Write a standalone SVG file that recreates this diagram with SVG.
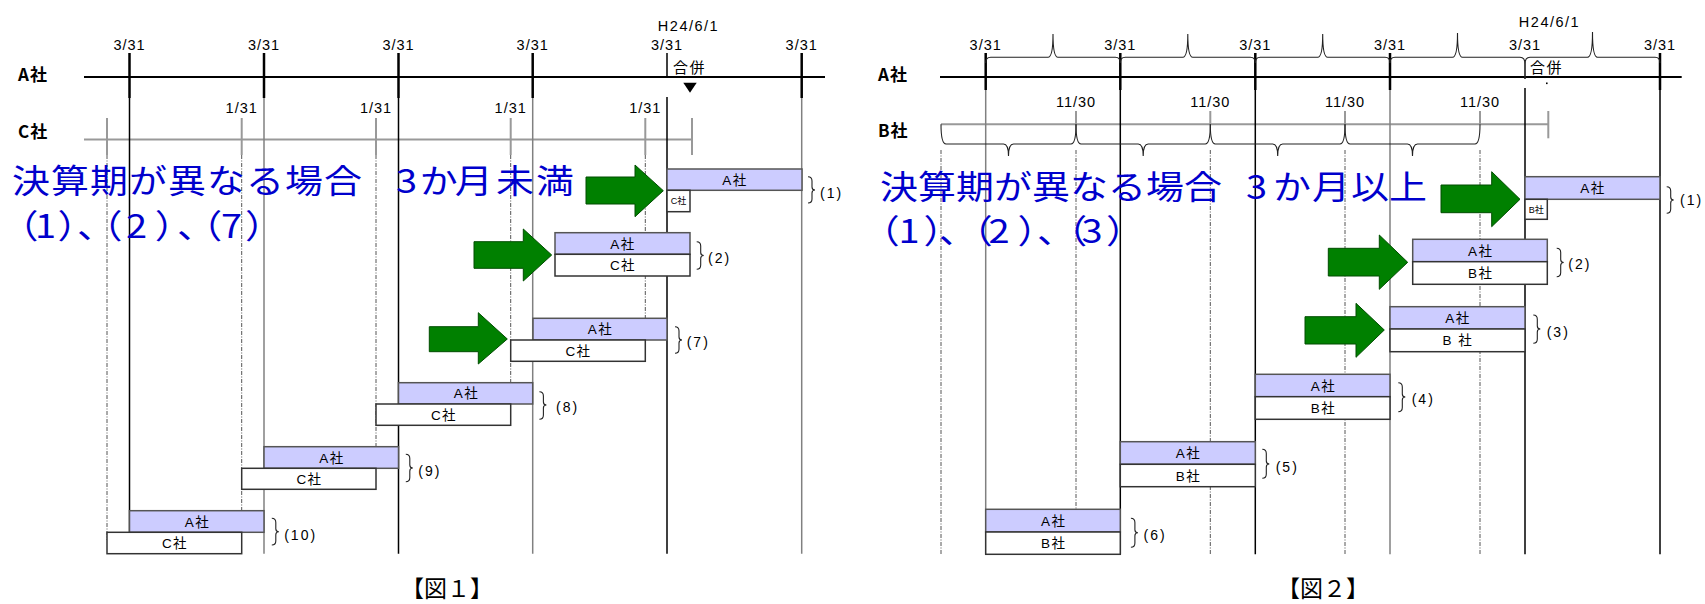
<svg xmlns="http://www.w3.org/2000/svg" width="1705" height="604" viewBox="0 0 1705 604">
<style>
.bg{fill:#fff}
.axis{stroke:#000;stroke-width:2;fill:none}
.axisg{stroke:#999;stroke-width:2;fill:none}
.tick{stroke:#000;stroke-width:2.5}
.tickg{stroke:#999;stroke-width:2}
.vb{stroke:#000;stroke-width:1.5}
.vg{stroke:#808080;stroke-width:1.5}
.dd{stroke:#555;stroke-width:1;stroke-dasharray:4 1.5 1 1.5}
.brace{stroke:#222;stroke-width:1.1;fill:none}
.barA{fill:#ccccff;stroke:#555;stroke-width:1.5}
.barC{fill:#fff;stroke:#333;stroke-width:1.5}
.arrow{fill:#008000;stroke:#004d00;stroke-width:1}
.date{font-family:"Liberation Sans","Noto Sans CJK JP",sans-serif;font-size:14.5px;letter-spacing:1px;text-anchor:middle;fill:#000}
.co{font-family:"Noto Sans CJK JP",sans-serif;font-size:17px;font-weight:bold;letter-spacing:1px;fill:#000}
.bt{font-family:"Liberation Sans","Noto Sans CJK JP",sans-serif;font-size:13.5px;letter-spacing:1.5px;text-anchor:middle;fill:#000}
.bts{font-family:"Liberation Sans","Noto Sans CJK JP",sans-serif;font-size:9px;text-anchor:middle;fill:#000}
.num{font-family:"Liberation Sans","Noto Sans CJK JP",sans-serif;font-size:14px;letter-spacing:2px;fill:#000}
.blue{font-family:"Noto Sans CJK JP",sans-serif;font-size:33px;fill:#0000cc}
.merge{font-family:"Noto Sans CJK JP",sans-serif;font-size:15px;letter-spacing:1.5px;fill:#000}
.cap{font-family:"Liberation Serif","Noto Sans CJK JP",serif;font-size:23px;text-anchor:middle;fill:#000}
</style>
<rect class="bg" x="0" y="0" width="1705" height="604"/>

<!-- ============ FIGURE 1 ============ -->
<g id="fig1-axes">
  <line class="axis" x1="84" y1="77" x2="825" y2="77"/>
  <line class="axisg" x1="84" y1="139.5" x2="692" y2="139.5"/>
  <!-- dash-dot C-company period lines -->
  <line class="dd" x1="107" y1="155" x2="107" y2="540"/>
  <line class="dd" x1="241.7" y1="155" x2="241.7" y2="520"/>
  <line class="dd" x1="376" y1="155" x2="376" y2="455"/>
  <line class="dd" x1="510.7" y1="155" x2="510.7" y2="390"/>
  <line class="dd" x1="645.3" y1="155" x2="645.3" y2="325"/>
  <!-- solid A-company fiscal year-end lines -->
  <line class="vb" x1="129.5" y1="98" x2="129.5" y2="553.7"/>
  <line class="vg" x1="264" y1="98" x2="264" y2="553.7"/>
  <line class="vb" x1="398.5" y1="98" x2="398.5" y2="553.7"/>
  <line class="vg" x1="532.7" y1="98" x2="532.7" y2="553.7"/>
  <line class="vb" x1="667" y1="97" x2="667" y2="553.7"/>
  <line class="vg" x1="801.7" y1="98" x2="801.7" y2="553.7"/>
  <!-- A ticks -->
  <line class="tick" x1="129.5" y1="53" x2="129.5" y2="98"/>
  <line class="tick" x1="264" y1="53" x2="264" y2="98"/>
  <line class="tick" x1="398.5" y1="53" x2="398.5" y2="98"/>
  <line class="tick" x1="532.7" y1="53" x2="532.7" y2="98"/>
  <line class="vb" x1="667" y1="53" x2="667" y2="77"/>
  <line class="tick" x1="801.7" y1="53" x2="801.7" y2="98"/>
  <!-- C ticks -->
  <line class="tickg" x1="107" y1="118" x2="107" y2="155"/>
  <line class="tickg" x1="241.7" y1="118" x2="241.7" y2="155"/>
  <line class="tickg" x1="376" y1="118" x2="376" y2="155"/>
  <line class="tickg" x1="510.7" y1="118" x2="510.7" y2="155"/>
  <line class="tickg" x1="645.3" y1="118" x2="645.3" y2="155"/>
  <line class="tickg" x1="692" y1="118" x2="692" y2="155"/>
  <polygon points="683.3,82.7 696.7,82.7 690,92.7" fill="#000"/>
</g>
<g id="fig1-labels">
  <text class="co" x="18" y="81">A社</text>
  <text class="co" x="18" y="137.5">C社</text>
  <text class="date" x="129.5" y="50">3/31</text>
  <text class="date" x="264" y="50">3/31</text>
  <text class="date" x="398.5" y="50">3/31</text>
  <text class="date" x="532.7" y="50">3/31</text>
  <text class="date" x="667" y="50">3/31</text>
  <text class="date" x="801.7" y="50">3/31</text>
  <text class="date" x="688.5" y="30.7" style="letter-spacing:1.5px">H24/6/1</text>
  <text class="merge" x="673" y="73">合併</text>
  <text class="date" x="241.7" y="113.3">1/31</text>
  <text class="date" x="376" y="113.3">1/31</text>
  <text class="date" x="510.7" y="113.3">1/31</text>
  <text class="date" x="645.3" y="113.3">1/31</text>
</g>
<g id="fig1-title" transform="scale(1.15,1)">
  <text class="blue" y="193.5" x="10.43 44.35 78.26 112.17 146.09 180 213.91 247.83 281.74 315.65 344.35 364.96 395.39 431.3 466.09">決算期が異なる場合　3か月未満</text>
  <text class="blue" y="238.5" x="0.5 30.43 49.91 66.96 73.5 109.57 134.5 153.91 160.17 192.17 212.96">（1）、（2）、（7）</text>
</g>
<g id="fig1-case1">
  <rect class="barA" x="667" y="169" width="135" height="21.3"/>
  <rect class="barC" x="667" y="190.3" width="23" height="21.4"/>
  <text class="bt" x="735" y="184.7">A社</text>
  <text class="bts" x="678.5" y="204.3">C社</text>
  <path class="brace" d="M808,176.7 Q812,176.7 812,181 L812,187 Q812,190 815,190 Q812,190 812,193 L812,199 Q812,203 808,203"/>
  <text class="num" x="820" y="197.5">(1)</text>
</g>
<g id="fig1-case2">
  <rect class="barA" x="555" y="232.7" width="135" height="21.6"/>
  <rect class="barC" x="555" y="254.3" width="135" height="21.7"/>
  <text class="bt" x="623" y="248.5">A社</text>
  <text class="bt" x="623" y="270">C社</text>
  <path class="brace" d="M696.7,241.7 Q700.7,241.7 700.7,246 L700.7,252.5 Q700.7,255.5 703.7,255.5 Q700.7,255.5 700.7,258.5 L700.7,265 Q700.7,269.3 696.7,269.3"/>
  <text class="num" x="708" y="263">(2)</text>
</g>
<g id="fig1-case7">
  <rect class="barA" x="533" y="318.3" width="134" height="21.7"/>
  <rect class="barC" x="510.7" y="340" width="134.6" height="21.3"/>
  <text class="bt" x="600.5" y="334">A社</text>
  <text class="bt" x="578.5" y="355.7">C社</text>
  <path class="brace" d="M675,326.7 Q679,326.7 679,331 L679,337 Q679,340 682,340 Q679,340 679,343 L679,349 Q679,353.3 675,353.3"/>
  <text class="num" x="686.7" y="346.5">(7)</text>
</g>
<g id="fig1-case8">
  <rect class="barA" x="398.5" y="382.7" width="134.2" height="21.3"/>
  <rect class="barC" x="376" y="404" width="134.7" height="21.3"/>
  <text class="bt" x="466.5" y="398.4">A社</text>
  <text class="bt" x="444" y="419.7">C社</text>
  <path class="brace" d="M539.4,391.7 Q543.4,391.7 543.4,396 L543.4,402 Q543.4,405 546.4,405 Q543.4,405 543.4,408 L543.4,415 Q543.4,419.3 539.4,419.3"/>
  <text class="num" x="556" y="411.5">(8)</text>
</g>
<g id="fig1-case9">
  <rect class="barA" x="264" y="446.7" width="134.5" height="21.6"/>
  <rect class="barC" x="241.7" y="468.3" width="134.3" height="21"/>
  <text class="bt" x="332" y="462.5">A社</text>
  <text class="bt" x="309.5" y="483.8">C社</text>
  <path class="brace" d="M405.8,454.3 Q409.8,454.3 409.8,458.5 L409.8,465 Q409.8,468 412.8,468 Q409.8,468 409.8,471 L409.8,477.5 Q409.8,481.7 405.8,481.7"/>
  <text class="num" x="418.3" y="476">(9)</text>
</g>
<g id="fig1-case10">
  <rect class="barA" x="129.5" y="510.7" width="134.5" height="21.6"/>
  <rect class="barC" x="107" y="532.3" width="134.7" height="21.4"/>
  <text class="bt" x="197.5" y="526.5">A社</text>
  <text class="bt" x="175" y="548">C社</text>
  <path class="brace" d="M271.8,518.3 Q275.8,518.3 275.8,522.5 L275.8,528.7 Q275.8,531.7 278.8,531.7 Q275.8,531.7 275.8,534.7 L275.8,541 Q275.8,545 271.8,545"/>
  <text class="num" x="284.2" y="540">(10)</text>
</g>
<g id="fig1-caption"><text class="cap" x="447" y="597">【図１】</text></g>

<!-- ============ FIGURE 2 ============ -->
<g id="fig2-axes">
  <line class="axis" x1="940" y1="77" x2="1681.7" y2="77"/>
  <line class="axisg" x1="941" y1="124.3" x2="1548.3" y2="124.3"/>
  <!-- dash-dot B-company lines -->
  <line class="dd" x1="941" y1="150" x2="941" y2="554.3"/>
  <line class="dd" x1="1076" y1="150" x2="1076" y2="515"/>
  <line class="dd" x1="1210.3" y1="150" x2="1210.3" y2="554.3"/>
  <line class="dd" x1="1345" y1="150" x2="1345" y2="554.3"/>
  <line class="dd" x1="1480" y1="150" x2="1480" y2="554.3"/>
  <!-- solid A lines -->
  <line class="vg" x1="985.7" y1="90" x2="985.7" y2="554.3"/>
  <line class="vb" x1="1120.3" y1="90" x2="1120.3" y2="554.3"/>
  <line class="vb" x1="1255.3" y1="90" x2="1255.3" y2="554.3"/>
  <line class="vg" x1="1390" y1="90" x2="1390" y2="554.3"/>
  <line class="vb" x1="1525" y1="88" x2="1525" y2="554.3"/>
  <line class="vb" x1="1660" y1="90" x2="1660" y2="554.3"/>
  <!-- A ticks -->
  <line class="tick" x1="985.7" y1="53" x2="985.7" y2="90"/>
  <line class="tick" x1="1120.3" y1="53" x2="1120.3" y2="90"/>
  <line class="tick" x1="1255.3" y1="53" x2="1255.3" y2="90"/>
  <line class="tick" x1="1390" y1="53" x2="1390" y2="90"/>
  <line class="tick" x1="1660" y1="53" x2="1660" y2="90"/>
  <!-- B ticks -->
  <line class="tickg" x1="1076" y1="111" x2="1076" y2="124.3"/>
  <line class="tickg" x1="1210.3" y1="111" x2="1210.3" y2="124.3"/>
  <line class="tickg" x1="1345" y1="111" x2="1345" y2="124.3"/>
  <line class="tickg" x1="1480" y1="111" x2="1480" y2="124.3"/>
  <line class="tickg" x1="1548.3" y1="111" x2="1548.3" y2="138.3"/>
  <!-- upper braces (A fiscal years) -->
  <path class="brace" d="M985.7,63 Q985.7,57.3 990.7,57.3 L1048,57.3 Q1053,57.3 1053,34 Q1053,57.3 1058,57.3 L1115.3,57.3 Q1120.3,57.3 1120.3,63"/>
  <path class="brace" d="M1120.3,63 Q1120.3,57.3 1125.3,57.3 L1182.8,57.3 Q1187.8,57.3 1187.8,34 Q1187.8,57.3 1192.8,57.3 L1250.3,57.3 Q1255.3,57.3 1255.3,63"/>
  <path class="brace" d="M1255.3,63 Q1255.3,57.3 1260.3,57.3 L1317.7,57.3 Q1322.7,57.3 1322.7,34 Q1322.7,57.3 1327.7,57.3 L1385,57.3 Q1390,57.3 1390,63"/>
  <path class="brace" d="M1390,63 Q1390,57.3 1395,57.3 L1452.5,57.3 Q1457.5,57.3 1457.5,33 Q1457.5,57.3 1462.5,57.3 L1520,57.3 Q1525,57.3 1525,64 L1525,79"/>
  <path class="brace" d="M1525,79 L1525,64 Q1525,57.3 1530,57.3 L1587.5,57.3 Q1592.5,57.3 1592.5,32 Q1592.5,57.3 1597.5,57.3 L1655,57.3 Q1660,57.3 1660,63"/>
  <!-- lower braces (B fiscal years) -->
  <path class="brace" d="M941,124.3 Q941,144 946,144 L1003.5,144 Q1008.5,144 1008.5,156 Q1008.5,144 1013.5,144 L1071,144 Q1076,144 1076,124.3"/>
  <path class="brace" d="M1076,124.3 Q1076,144 1081,144 L1138.2,144 Q1143.2,144 1143.2,156 Q1143.2,144 1148.2,144 L1205.3,144 Q1210.3,144 1210.3,124.3"/>
  <path class="brace" d="M1210.3,124.3 Q1210.3,144 1215.3,144 L1272.7,144 Q1277.7,144 1277.7,156 Q1277.7,144 1282.7,144 L1340,144 Q1345,144 1345,124.3"/>
  <path class="brace" d="M1345,124.3 Q1345,144 1350,144 L1407.5,144 Q1412.5,144 1412.5,156 Q1412.5,144 1417.5,144 L1475,144 Q1480,144 1480,124.3"/>
  <rect x="1546" y="82.5" width="1.6" height="1.6" fill="#000"/>
</g>
<g id="fig2-labels">
  <text class="co" x="878" y="81">A社</text>
  <text class="co" x="878" y="136.5">B社</text>
  <text class="date" x="985.7" y="49.5">3/31</text>
  <text class="date" x="1120.3" y="49.5">3/31</text>
  <text class="date" x="1255.3" y="49.5">3/31</text>
  <text class="date" x="1390" y="49.5">3/31</text>
  <text class="date" x="1525" y="49.5">3/31</text>
  <text class="date" x="1660" y="49.5">3/31</text>
  <text class="date" x="1549.5" y="26.7" style="letter-spacing:1.5px">H24/6/1</text>
  <text class="merge" x="1530" y="73">合併</text>
  <text class="date" x="1076" y="106.7">11/30</text>
  <text class="date" x="1210.3" y="106.7">11/30</text>
  <text class="date" x="1345" y="106.7">11/30</text>
  <text class="date" x="1480" y="106.7">11/30</text>
</g>
<g id="fig2-title" transform="scale(1.15,1)">
  <text class="blue" y="199.5" x="765.22 798.26 831.3 864.35 897.39 930.43 963.48 996.52 1029.57 1056.52 1083.48 1106.96 1140.87 1174.78 1207.83">決算期が異なる場合　3か月以上</text>
  <text class="blue" y="243.3" x="749.3 781.39 802.96 816.26 830.17 859.65 884.7 901.74 912.35 940.52 961.65">（1）、（2）、（3）</text>
</g>
<g id="fig2-case1">
  <rect class="barA" x="1525" y="176.7" width="135" height="22.6"/>
  <rect class="barC" x="1525" y="199.3" width="22.3" height="20"/>
  <text class="bt" x="1593" y="193">A社</text>
  <text class="bts" x="1536.2" y="212.8">B社</text>
  <path class="brace" d="M1666.7,186.7 Q1670.7,186.7 1670.7,191 L1670.7,197 Q1670.7,200 1673.7,200 Q1670.7,200 1670.7,203 L1670.7,209 Q1670.7,213.3 1666.7,213.3"/>
  <text class="num" x="1680" y="205">(1)</text>
</g>
<g id="fig2-case2">
  <rect class="barA" x="1412.7" y="239.3" width="134.6" height="22.4"/>
  <rect class="barC" x="1412.7" y="261.7" width="134.6" height="22.6"/>
  <text class="bt" x="1480.7" y="255.5">A社</text>
  <text class="bt" x="1480.7" y="278">B社</text>
  <path class="brace" d="M1556.7,248.3 Q1560.7,248.3 1560.7,252.5 L1560.7,259.5 Q1560.7,262.5 1563.7,262.5 Q1560.7,262.5 1560.7,265.5 L1560.7,272.5 Q1560.7,276.7 1556.7,276.7"/>
  <text class="num" x="1568.3" y="269">(2)</text>
</g>
<g id="fig2-case3">
  <rect class="barA" x="1390" y="306.7" width="135" height="22.3"/>
  <rect class="barC" x="1390" y="329" width="135" height="22.7"/>
  <text class="bt" x="1458" y="322.9">A社</text>
  <text class="bt" x="1458" y="345.3">B 社</text>
  <path class="brace" d="M1533.3,315 Q1537.3,315 1537.3,319.3 L1537.3,326 Q1537.3,329 1540.3,329 Q1537.3,329 1537.3,332 L1537.3,339 Q1537.3,343.3 1533.3,343.3"/>
  <text class="num" x="1546.7" y="336.5">(3)</text>
</g>
<g id="fig2-case4">
  <rect class="barA" x="1255.3" y="374.3" width="134.7" height="22.4"/>
  <rect class="barC" x="1255.3" y="396.7" width="134.7" height="22.6"/>
  <text class="bt" x="1323.4" y="390.5">A社</text>
  <text class="bt" x="1323.4" y="413">B社</text>
  <path class="brace" d="M1398.3,382.7 Q1402.3,382.7 1402.3,387 L1402.3,394 Q1402.3,397 1405.3,397 Q1402.3,397 1402.3,400 L1402.3,407.5 Q1402.3,411.7 1398.3,411.7"/>
  <text class="num" x="1411.7" y="404">(4)</text>
</g>
<g id="fig2-case5">
  <rect class="barA" x="1120.3" y="441.7" width="135" height="22.6"/>
  <rect class="barC" x="1120.3" y="464.3" width="135" height="22.4"/>
  <text class="bt" x="1188.5" y="458">A社</text>
  <text class="bt" x="1188.5" y="480.5">B社</text>
  <path class="brace" d="M1262.3,449.3 Q1266.3,449.3 1266.3,453.5 L1266.3,461 Q1266.3,464 1269.3,464 Q1266.3,464 1266.3,467 L1266.3,474 Q1266.3,478.3 1262.3,478.3"/>
  <text class="num" x="1275.7" y="471.5">(5)</text>
</g>
<g id="fig2-case6">
  <rect class="barA" x="985.7" y="509.3" width="134.6" height="22.7"/>
  <rect class="barC" x="985.7" y="532" width="134.6" height="22.3"/>
  <text class="bt" x="1053.7" y="525.6">A社</text>
  <text class="bt" x="1053.7" y="548">B社</text>
  <path class="brace" d="M1130.9,518.3 Q1134.9,518.3 1134.9,522.5 L1134.9,529.8 Q1134.9,532.8 1137.9,532.8 Q1134.9,532.8 1134.9,535.8 L1134.9,543 Q1134.9,547.3 1130.9,547.3"/>
  <text class="num" x="1143.5" y="540">(6)</text>
</g>
<g id="fig2-caption"><text class="cap" x="1323" y="597">【図２】</text></g>

<!-- ============ CONNECTORS (green arrows) ============ -->
<g id="connectors">
  <path class="arrow" d="M586,177 L635,177 L635,165 L663.3,190.7 L635,216.7 L635,204 L586,204 Z"/>
  <path class="arrow" d="M474,241.7 L523.3,241.7 L523.3,229 L551.7,255 L523.3,281 L523.3,268.3 L474,268.3 Z"/>
  <path class="arrow" d="M429.3,326.7 L478.3,326.7 L478.3,312.7 L507.3,339 L478.3,364 L478.3,351.7 L429.3,351.7 Z"/>
  <path class="arrow" d="M1441,185 L1491.7,185 L1491.7,171.7 L1520,199.3 L1491.7,226.7 L1491.7,212.7 L1441,212.7 Z"/>
  <path class="arrow" d="M1328.3,248.3 L1379.3,248.3 L1379.3,235 L1407.7,262.3 L1379.3,289.3 L1379.3,276 L1328.3,276 Z"/>
  <path class="arrow" d="M1305,316.7 L1356,316.7 L1356,303.3 L1384.3,330 L1356,357.3 L1356,344 L1305,344 Z"/>
</g>
</svg>
